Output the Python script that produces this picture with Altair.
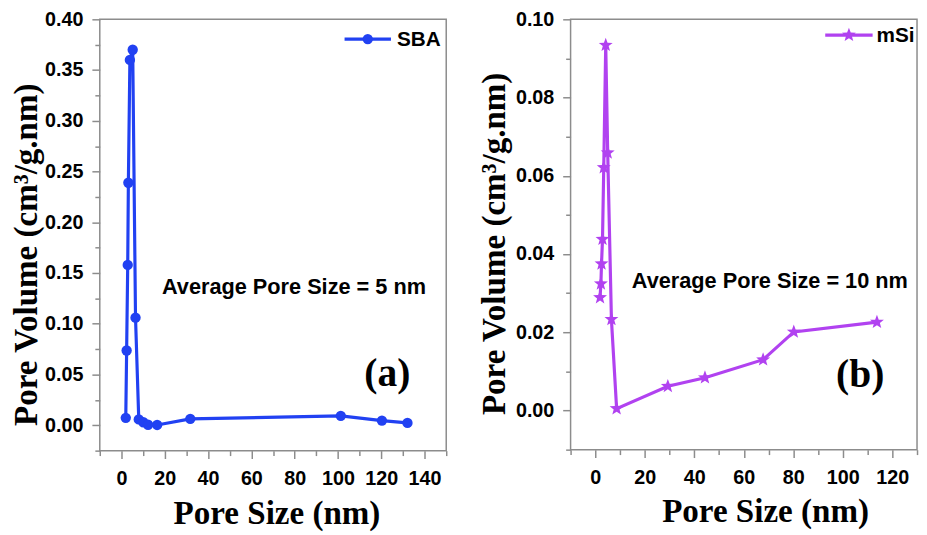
import altair as alt
import pandas as pd

# ---- data ----
sba_size = [2.0, 2.4, 2.9, 3.2, 3.9, 5.2, 6.5, 8.0, 10.1, 12.3, 16.5, 31.8, 101.3, 120.3, 132.1]
sba_vol = [0.0073, 0.0737, 0.158, 0.239, 0.360, 0.370, 0.106, 0.0058, 0.0030, 0.0005, 0.0003,
           0.0063, 0.0093, 0.0046, 0.0023]

msi_size = [1.9, 2.25, 2.5, 2.9, 3.4, 4.2, 5.0, 6.5, 8.6, 29.3, 44.3, 67.8, 80.2, 113.8]
msi_vol = [0.0289, 0.0324, 0.0375, 0.0438, 0.0621, 0.0934, 0.0659, 0.0233, 0.0005, 0.0062,
           0.0084, 0.0130, 0.0201, 0.0226]

series = ["SBA", "mSi"]
notes = ["Average Pore Size = 5 nm", "Average Pore Size = 10 nm"]
tags = ["(a)", "(b)"]
x_title = "Pore Size (nm)"
y_title = "Pore Volume (cm³/g.nm)"

BLUE = "#2141f2"
PURPLE = "#b142f0"
FRAME = "#8c8c8c"
SANS = "Liberation Sans"
SERIF = "Liberation Serif"
TITLE_SIZE = 33.5

# five-pointed star symbol (unit box), Vega has no built-in star
STAR = ("M0,-1L0.247,-0.34L0.951,-0.309L0.4,0.13L0.588,0.809L0,0.42"
        "L-0.588,0.809L-0.4,0.13L-0.951,-0.309L-0.247,-0.34Z")


def panel(xs, ys, name, note, tag, color, shape, msize, w, h,
          xdom, ydom, ystep, ymajor,
          ytx, yty, xtx, xty, leg, note_pos, tag_pos):
    df = pd.DataFrame({"pore": xs, "vol": ys})
    xvals = list(range(xdom[0], xdom[1] + 1, 10))
    nsteps = int(round((ydom[1] - ydom[0]) / ystep))
    yvals = [round(ydom[0] + i * ystep, 4) for i in range(nsteps + 1)]
    ym = int(round(ymajor * 1000))
    ytest = f"abs(round(datum.value*1000)) % {ym} === 0"
    xtest = "datum.value % 20 === 0"

    xaxis = alt.Axis(
        values=xvals, title=x_title, grid=False, domain=False,
        labelExpr=f"({xtest}) && datum.value >= 0 ? datum.label : ''",
        labelFont=SANS, labelFontSize=20, labelFontWeight="bold", labelColor="black",
        labelPadding=10, labelOverlap=False, labelFlush=False,
        tickColor=FRAME, tickWidth=1.5,
        tickSize={"condition": {"test": xtest, "value": 8}, "value": 5},
        titleFont=SERIF, titleFontSize=TITLE_SIZE, titleFontWeight="bold", titleColor="black",
        titleX=xtx, titleY=xty, titleBaseline="alphabetic", titleAlign="center",
    )
    yaxis = alt.Axis(
        values=yvals, title=y_title, grid=False, domain=False, format=".2f",
        labelExpr=f"({ytest}) && datum.value >= 0 ? datum.label : ''",
        labelFont=SANS, labelFontSize=20, labelFontWeight="bold", labelColor="black",
        labelPadding=9, labelOverlap=False, labelFlush=False,
        tickColor=FRAME, tickWidth=1.5,
        tickSize={"condition": {"test": ytest, "value": 8}, "value": 5},
        titleFont=SERIF, titleFontSize=TITLE_SIZE, titleFontWeight="bold", titleColor="black",
        titleX=ytx, titleY=yty, titleAngle=270, titleBaseline="middle", titleAlign="center",
    )
    xs_ = alt.Scale(domain=list(xdom), nice=False, zero=False)
    ys_ = alt.Scale(domain=list(ydom), nice=False, zero=False)

    base = alt.Chart(df).encode(
        x=alt.X("pore:Q", scale=xs_, axis=xaxis),
        y=alt.Y("vol:Q", scale=ys_, axis=yaxis),
    )
    line = base.mark_line(color=color, strokeWidth=3.2)
    pts = base.mark_point(shape=shape, filled=True, size=msize, color=color, opacity=1)

    ldf = pd.DataFrame({"series": [name]})
    lx0, lx1, ly, ltx = leg
    leg_line = alt.Chart(ldf).mark_rule(color=color, strokeWidth=3.2).encode(
        x=alt.value(lx0), x2=alt.value(lx1), y=alt.value(ly))
    leg_pt = alt.Chart(ldf).mark_point(shape=shape, filled=True, size=msize, color=color,
                                       opacity=1).encode(
        x=alt.value((lx0 + lx1) / 2), y=alt.value(ly))
    leg_txt = alt.Chart(ldf).mark_text(align="left", baseline="middle", font=SANS, fontSize=21,
                                       fontWeight="bold", color="black").encode(
        x=alt.value(ltx), y=alt.value(ly + 1), text="series:N")

    ndf = pd.DataFrame({"note": [note], "tag": [tag]})
    note_txt = alt.Chart(ndf).mark_text(align="left", baseline="alphabetic", font=SANS,
                                        fontSize=22, fontWeight="bold", color="black").encode(
        x=alt.value(note_pos[0]), y=alt.value(note_pos[1]), text="note:N")
    tag_txt = alt.Chart(ndf).mark_text(align="left", baseline="alphabetic", font=SERIF,
                                       fontSize=40, fontWeight="bold", color="black").encode(
        x=alt.value(tag_pos[0]), y=alt.value(tag_pos[1]), text="tag:N")

    return alt.layer(line, pts, leg_line, leg_pt, leg_txt, note_txt, tag_txt).properties(
        width=w, height=h)


left = panel(sba_size, sba_vol, series[0], notes[0], tags[0], BLUE, "circle", 110, 351, 437,
             (-10, 150), (-0.025, 0.40), 0.025, 0.05,
             ytx=-74.5, yty=238, xtx=179, xty=74,
             leg=(248, 295, 20, 301), note_pos=(63, 278), tag_pos=(268, 372))
right = panel(msi_size, msi_vol, series[1], notes[1], tags[1], PURPLE, STAR, 220, 351, 436,
              (-10, 130), (-0.01, 0.10), 0.01, 0.02,
              ytx=-77, yty=227, xtx=197, xty=73,
              leg=(258, 306, 16, 310), note_pos=(62, 272), tag_pos=(269, 373))

chart = alt.hconcat(left, right, spacing=29).properties(
    padding={"left": 0, "top": -3, "right": 0, "bottom": 0}
).configure_view(stroke=FRAME, strokeWidth=1.5)

chart.save("out.html", embed_options={"renderer": "svg", "actions": False})
